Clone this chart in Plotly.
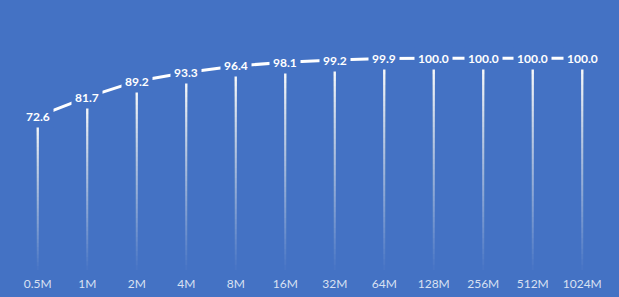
import plotly.graph_objects as go

categories = ["0.5M", "1M", "2M", "4M", "8M", "16M", "32M", "64M", "128M", "256M", "512M", "1024M"]
values = [72.6, 81.7, 89.2, 93.3, 96.4, 98.1, 99.2, 99.9, 100.0, 100.0, 100.0, 100.0]

BG = "#4472C4"
fig = go.Figure()

# gradient drop lines: overlapping segments from k/N up to the point,
# per-segment alpha chosen so the cumulative opacity rises linearly to the top
shapes = []
N = 40
for c, v in zip(categories, values):
    for k in range(1, N + 1):
        y0 = v * (k - 1) / N
        a = 1.0 / (N - k + 1)
        shapes.append(dict(type="line", xref="x", yref="y", x0=c, x1=c, y0=y0, y1=v,
                           line=dict(color="white", width=2), opacity=a, layer="above"))

fig.add_trace(go.Scatter(x=categories, y=values, mode="lines",
                         line=dict(color="white", width=3), hoverinfo="skip", showlegend=False))

annotations = []
for c, v in zip(categories, values):
    annotations.append(dict(x=c, y=v, xref="x", yref="y", text=f"<b>{v:.1f}</b>",
                            showarrow=False, bgcolor=BG, borderpad=3,
                            font=dict(color="white", size=12, family="Lato")))

fig.update_layout(
    width=619, height=297,
    margin=dict(l=13, r=12, t=16, b=27, autoexpand=False),
    paper_bgcolor=BG, plot_bgcolor=BG,
    shapes=shapes, annotations=annotations,
    showlegend=False,
    xaxis=dict(type="category", showgrid=False, zeroline=False, showline=False,
               tickfont=dict(color="#D9E1F2", size=12, family="Lato"), ticks="",
               ticklabelstandoff=5, automargin=False,
               range=[-0.5, len(categories) - 0.5]),
    yaxis=dict(range=[0, 120], showgrid=False, zeroline=False, showticklabels=False,
               showline=False, automargin=False),
)
fig.write_html("out.html")
